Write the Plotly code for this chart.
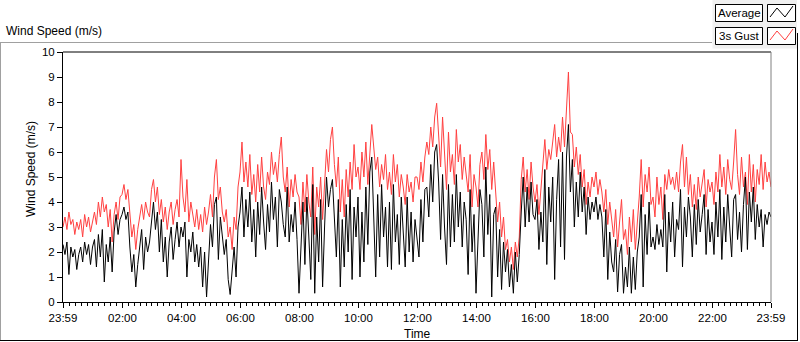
import pandas as pd
import plotly.graph_objects as go

# ---------------- data (4-minute samples) ----------------
tick_labels = ["23:59", "02:00", "04:00", "06:00", "08:00", "10:00", "12:00",
               "14:00", "16:00", "18:00", "20:00", "22:00", "23:59"]

gust_speed = [
    # 23:59 - 02:00
    3.0, 3.4, 2.9, 3.6, 3.1, 3.3, 2.7, 3.2, 2.9, 3.3, 2.6, 3.5, 3.0, 3.4, 2.8, 3.2, 3.6, 3.1, 4.0, 3.4, 4.2, 3.6, 3.9, 3.0, 3.7, 2.4, 3.5, 4.0, 3.3, 4.2,
    # 02:00 - 04:00
    4.3, 4.7, 4.1, 4.5, 3.4, 2.6, 3.1, 2.1, 2.9, 3.5, 3.9, 3.3, 4.0, 3.6, 3.4, 4.5, 4.9, 4.0, 4.6, 3.5, 4.1, 3.2, 3.8, 2.9, 3.6, 4.0, 3.1, 3.7, 4.1, 3.4,
    # 04:00 - 06:00
    5.7, 4.2, 3.6, 4.9, 3.2, 4.0, 3.4, 3.0, 3.7, 2.9, 3.5, 2.8, 3.8, 3.1, 3.6, 4.3, 3.4, 5.0, 5.7, 4.1, 4.6, 3.6, 3.2, 3.7, 2.6, 3.0, 2.1, 3.4, 2.9, 4.6,
    # 06:00 - 08:00
    5.2, 6.4, 4.8, 5.6, 4.6, 5.9, 4.3, 5.1, 4.0, 5.5, 4.4, 5.8, 4.6, 4.1, 5.2, 4.7, 6.0, 5.1, 5.6, 4.8, 5.9, 6.6, 5.0, 4.4, 5.4, 3.8, 4.9, 4.2, 5.1, 4.4,
    # 08:00 - 10:00
    4.2, 3.1, 4.8, 3.6, 5.1, 4.0, 3.4, 5.4, 2.7, 4.6, 3.8, 5.0, 3.3, 4.7, 6.1, 5.2, 6.5, 7.0, 5.5, 4.6, 5.8, 3.6, 4.9, 3.4, 5.3, 4.2, 5.6, 4.5, 6.3, 5.0,
    # 10:00 - 12:00
    5.4, 4.5, 6.0, 5.0, 6.4, 4.7, 5.9, 7.1, 6.2, 5.3, 5.8, 4.6, 5.5, 4.9, 5.9, 4.5, 5.2, 4.3, 5.9, 4.8, 5.5, 4.2, 5.1, 4.6, 3.9, 5.1, 4.4, 4.8, 4.0, 5.0,
    # 12:00 - 14:00
    5.0, 4.5, 5.6, 4.8, 5.8, 6.4, 5.9, 7.0, 6.2, 7.4, 7.95, 6.6, 5.4, 7.4, 6.0, 4.5, 6.8, 5.2, 5.9, 4.7, 6.9, 5.6, 6.3, 4.9, 5.8, 5.2, 4.4, 5.9, 3.8, 5.1,
    # 14:00 - 16:00
    4.6, 3.8, 5.5, 6.0, 4.9, 6.7, 5.3, 6.1, 4.5, 5.6, 4.5, 3.2, 4.0, 2.6, 3.4, 2.1, 2.5, 1.6, 2.2, 1.3, 2.4, 1.8, 2.6, 4.9, 5.8, 4.4, 5.3, 4.1, 5.6, 4.6,
    # 16:00 - 18:00
    4.0, 4.7, 3.5, 4.4, 5.6, 6.5, 5.3, 6.1, 5.7, 6.4, 7.1, 5.8, 6.6, 6.0, 7.4, 6.2, 7.8, 9.2, 6.8, 6.7, 5.4, 6.2, 5.1, 5.9, 4.6, 5.3, 3.9, 4.8, 4.2, 5.0,
    # 18:00 - 20:00
    4.6, 5.2, 4.3, 4.9, 4.4, 3.6, 4.5, 3.1, 4.0, 3.4, 2.6, 3.7, 2.2, 3.2, 4.1, 2.5, 2.9, 1.9, 3.4, 2.4, 3.7, 2.1, 3.1, 4.2, 5.7, 3.8, 5.1, 4.4, 5.4, 3.9,
    # 20:00 - 22:00
    4.2, 3.4, 5.0, 3.9, 4.6, 3.3, 5.1, 4.5, 5.3, 4.7, 5.0, 4.5, 5.2, 4.4, 5.6, 6.3, 4.6, 5.8, 4.3, 5.1, 3.8, 4.7, 3.7, 5.0, 4.2, 4.8, 5.3, 3.8, 4.9, 4.4,
    # 22:00 - 23:59
    4.8, 3.9, 5.2, 4.4, 5.9, 4.6, 5.4, 4.3, 5.7, 4.9, 4.5, 5.6, 6.9, 5.1, 4.3, 5.8, 4.6, 5.2, 3.9, 5.9, 4.4, 5.5, 4.0, 5.3, 4.7, 5.9, 4.5, 5.6, 4.8, 5.2, 4.6,
]

avg_speed = [
    # 23:59 - 02:00
    2.3, 1.9, 2.4, 1.1, 2.2, 1.8, 2.1, 1.3, 1.9, 2.2, 1.6, 2.4, 1.9, 2.3, 1.5, 2.2, 2.5, 1.4, 2.7, 1.8, 2.9, 0.8, 2.3, 1.6, 2.6, 1.2, 2.8, 3.5, 2.7, 3.3,
    # 02:00 - 04:00
    3.5, 3.8, 3.3, 3.6, 2.2, 1.2, 1.9, 0.6, 1.5, 2.3, 2.9, 1.3, 2.6, 2.0, 2.4, 3.2, 4.0, 2.9, 3.6, 2.0, 3.3, 1.6, 2.6, 1.0, 2.4, 3.0, 1.7, 2.5, 3.2, 2.2,
    # 04:00 - 06:00
    3.0, 2.6, 3.2, 1.0, 2.5, 2.0, 2.8, 1.6, 2.3, 1.4, 2.2, 0.6, 2.0, 0.2, 1.8, 3.1, 2.2, 3.9, 4.2, 1.7, 3.4, 2.5, 1.9, 2.5, 0.9, 0.3, 1.4, 2.2, 1.0, 3.0,
    # 06:00 - 08:00
    3.6, 4.6, 2.6, 4.1, 3.0, 4.4, 2.4, 3.7, 1.8, 4.0, 2.7, 4.6, 3.2, 2.1, 3.9, 2.8, 4.8, 3.3, 4.2, 2.2, 4.5, 4.0, 3.1, 2.6, 4.6, 2.4, 3.5, 2.8, 4.0, 2.5,
    # 08:00 - 10:00
    0.35, 2.2, 4.0, 1.5, 4.2, 2.6, 0.9, 4.7, 0.35, 3.4, 1.6, 4.1, 0.6, 3.0, 5.0, 3.8, 4.5, 4.9, 3.2, 1.8, 4.1, 0.6, 3.3, 1.4, 3.9, 2.0, 4.5, 0.9, 3.8, 2.6,
    # 10:00 - 12:00
    4.2, 1.0, 3.6, 1.6, 4.6, 2.3, 5.2, 5.8, 3.4, 1.0, 4.3, 1.8, 4.7, 2.6, 3.8, 1.4, 4.0, 1.3, 4.7, 2.4, 3.5, 1.5, 4.2, 2.7, 1.4, 4.2, 2.0, 3.6, 1.6, 3.3,
    # 12:00 - 14:00
    2.6, 1.8, 4.1, 2.4, 4.5, 4.6, 3.4, 5.5, 4.0, 6.0, 6.3, 4.8, 2.5, 5.1, 3.0, 1.5, 4.7, 2.2, 4.3, 2.4, 5.1, 3.0, 4.4, 2.2, 4.0, 3.3, 1.1, 4.5, 2.0, 3.5,
    # 14:00 - 16:00
    0.35, 2.6, 4.5, 3.9, 1.8, 5.4, 2.7, 4.3, 0.2, 3.5, 3.8, 1.0, 2.9, 0.5, 2.4, 1.2, 2.1, 0.6, 1.5, 0.35, 2.0, 0.8, 1.9, 3.6, 5.0, 3.0, 4.6, 3.2, 4.8, 3.5,
    # 16:00 - 18:00
    3.3, 4.1, 2.1, 3.6, 2.4, 5.3, 1.5, 4.6, 3.2, 5.0, 0.9, 4.1, 5.7, 2.2, 6.0, 1.7, 5.8, 7.1, 4.4, 5.7, 3.0, 4.8, 3.4, 5.2, 3.6, 4.6, 2.7, 4.2, 3.3, 4.0,
    # 18:00 - 20:00
    3.6, 4.2, 3.3, 3.9, 3.4, 1.8, 3.7, 0.9, 2.8, 1.6, 1.2, 2.5, 0.4, 1.9, 2.3, 0.35, 1.4, 0.6, 2.2, 0.35, 1.8, 0.5, 2.0, 2.6, 4.3, 0.6, 3.5, 1.9, 4.0, 2.2,
    # 20:00 - 22:00
    2.6, 2.1, 3.1, 2.3, 2.9, 2.2, 4.3, 1.2, 3.6, 2.4, 4.0, 1.8, 3.3, 2.9, 4.5, 1.4, 3.8, 2.6, 4.2, 3.4, 1.8, 3.9, 2.3, 4.1, 2.8, 3.5, 4.3, 1.9, 3.7, 2.4,
    # 22:00 - 23:59
    3.2, 1.9, 4.0, 2.6, 4.5, 1.7, 3.8, 2.4, 4.3, 3.0, 1.8, 4.1, 4.3, 2.5, 3.6, 2.0, 3.9, 5.0, 2.1, 4.4, 3.2, 4.6, 2.5, 3.9, 3.0, 3.7, 2.2, 3.5, 3.1, 3.6, 3.4,
]

# ---------------- time axis ----------------
start = pd.Timestamp("2024-01-01 23:59")
end = start + pd.Timedelta(hours=24)
times = pd.date_range(start, periods=len(avg_speed), freq="4min")
tick_times = ([start] +
              [pd.Timestamp("2024-01-02 02:00") + pd.Timedelta(hours=2 * k) for k in range(11)] +
              [end])

# ---------------- geometry helpers (pixel -> paper) ----------------
L, R, T, B = 63, 771, 52, 302
W, H = 800, 342


def px(x):
    return (x - L) / (R - L)


def py(y):
    return (B - y) / (B - T)


FONT = "Liberation Sans, Arial, sans-serif"

fig = go.Figure()
fig.add_trace(go.Scatter(x=times, y=gust_speed, mode="lines", name="3s Gust",
                         line=dict(color="#ff4040", width=1), showlegend=False))
fig.add_trace(go.Scatter(x=times, y=avg_speed, mode="lines", name="Average",
                         line=dict(color="#000000", width=1), showlegend=False))

fig.update_layout(
    width=W, height=H, autosize=False,
    margin=dict(l=L, r=W - R, t=T, b=H - B, pad=0),
    paper_bgcolor="white", plot_bgcolor="white",
    font=dict(family=FONT, size=12, color="black"),
    showlegend=False,
)

fig.update_xaxes(
    type="date", range=[start, end],
    tickmode="array", tickvals=tick_times, ticktext=tick_labels,
    ticks="outside", ticklen=5, tickwidth=1, tickcolor="black",
    tickfont=dict(size=11.5),
    minor=dict(ticks="outside", ticklen=3, tickcolor="black", dtick=12 * 60 * 1000,
               tick0="2024-01-02 00:00", showgrid=False),
    showgrid=False, zeroline=False,
    showline=True, linecolor="black", linewidth=1,
)
fig.update_yaxes(
    range=[0, 10], dtick=1, tick0=0,
    ticks="outside", ticklen=5, tickwidth=1, tickcolor="black",
    tickfont=dict(size=11.5),
    showgrid=False, zeroline=False,
    showline=True, linecolor="black", linewidth=1,
)

shapes = []
# plot frame top and right
shapes.append(dict(type="line", xref="paper", yref="paper", x0=0, x1=1, y0=1, y1=1,
                   line=dict(color="black", width=1)))
shapes.append(dict(type="line", xref="paper", yref="paper", x0=1, x1=1, y0=0, y1=1,
                   line=dict(color="#808080", width=1)))
# outer frame
shapes.append(dict(type="line", xref="paper", yref="paper", x0=px(0), x1=px(712), y0=py(42.5), y1=py(42.5),
                   line=dict(color="#a0a0a0", width=1)))
shapes.append(dict(type="line", xref="paper", yref="paper", x0=px(0.5), x1=px(0.5), y0=py(42.5), y1=py(340.5),
                   line=dict(color="#a0a0a0", width=1)))
shapes.append(dict(type="line", xref="paper", yref="paper", x0=px(0), x1=px(798), y0=py(340.5), y1=py(340.5),
                   line=dict(color="black", width=1)))
shapes.append(dict(type="line", xref="paper", yref="paper", x0=px(797.5), x1=px(797.5), y0=py(33), y1=py(340.5),
                   line=dict(color="black", width=1)))
# legend panel
shapes.append(dict(type="rect", xref="paper", yref="paper", x0=px(712.5), x1=px(797), y0=py(0), y1=py(48.5),
                   fillcolor="#f0f0f0", line=dict(width=0), layer="below"))
for (y0, y1) in [(4.5, 21.5), (27.5, 44.5)]:
    shapes.append(dict(type="rect", xref="paper", yref="paper", x0=px(715.5), x1=px(762.5), y0=py(y0), y1=py(y1),
                       fillcolor="white", line=dict(color="black", width=1)))
    shapes.append(dict(type="rect", xref="paper", yref="paper", x0=px(767.5), x1=px(795.5), y0=py(y0), y1=py(y1),
                       fillcolor="white", line=dict(color="black", width=1)))


def zig(y_off, color):
    pts = [(770, 17), (777, 8), (785, 17), (793, 6)]
    d = "M " + " L ".join(f"{px(x):.5f},{py(y + y_off):.5f}" for x, y in pts)
    return dict(type="path", xref="paper", yref="paper", path=d, line=dict(color=color, width=1))


shapes.append(zig(0, "black"))
shapes.append(zig(23, "#ff4040"))

annotations = [
    dict(text="Wind Speed (m/s)", x=px(4), y=py(31), xref="paper", yref="paper",
         xanchor="left", yanchor="middle", showarrow=False, font=dict(size=12)),
    dict(text="Wind Speed (m/s)", x=px(31), y=py(169), xref="paper", yref="paper",
         xanchor="center", yanchor="middle", textangle=-90, showarrow=False, font=dict(size=12)),
    dict(text="Time", x=px(417), y=py(334), xref="paper", yref="paper",
         xanchor="center", yanchor="middle", showarrow=False, font=dict(size=12)),
    dict(text="Average", x=px(739), y=py(13), xref="paper", yref="paper",
         xanchor="center", yanchor="middle", showarrow=False, font=dict(size=11.5)),
    dict(text="3s Gust", x=px(739), y=py(36), xref="paper", yref="paper",
         xanchor="center", yanchor="middle", showarrow=False, font=dict(size=11.5)),
]

fig.update_layout(shapes=shapes, annotations=annotations)
fig.write_html("out.html", config={"displayModeBar": False},
               post_script="document.body.style.margin='0';document.body.style.overflow='hidden';")
